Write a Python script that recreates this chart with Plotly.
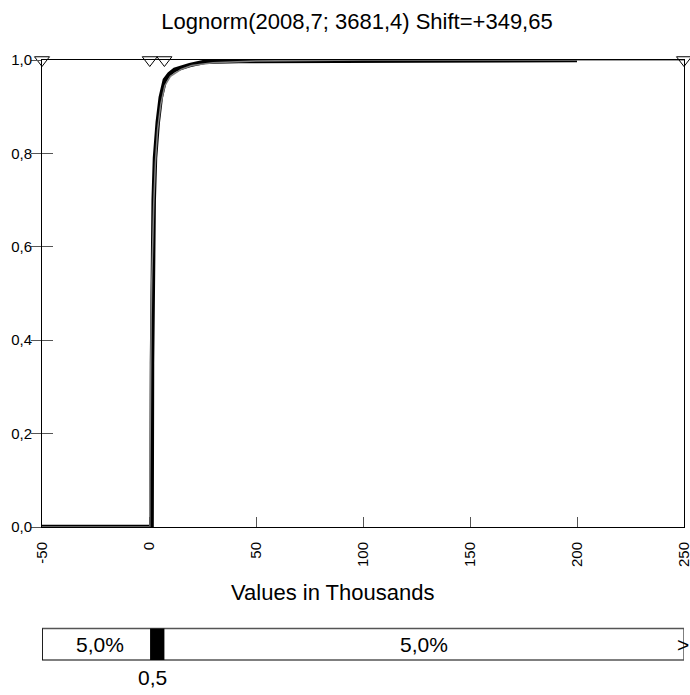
import plotly.graph_objects as go

# ---- data ----
emp_x = [-50, 1.2, 1.4, 1.6, 1.9, 2.2, 2.8, 3.6, 4.1, 5.5, 7.4, 9.5, 12, 19, 26, 42, 80, 200]
emp_y = [0, 0, 0.35, 0.50, 0.62, 0.70, 0.79, 0.84, 0.867, 0.92, 0.957, 0.97, 0.979, 0.989, 0.996, 0.998, 0.999, 1.0]

fit_x = [-50, 0.35, 0.4, 0.5, 0.7, 1.0, 1.3, 1.7, 2.2, 3.0, 4.0, 5.5, 7.4, 10, 15, 20, 30, 50, 100, 250]
fit_y = [0, 0, 0.10, 0.20, 0.33, 0.45, 0.53, 0.61, 0.69, 0.78, 0.85, 0.905, 0.945, 0.965, 0.98, 0.988, 0.994, 0.998, 1.0, 1.0]

x_ticks = [-50, 0, 50, 100, 150, 200, 250]
x_ticktext = ["-50", "0", "50", "100", "150", "200", "250"]
y_ticks = [0.0, 0.2, 0.4, 0.6, 0.8, 1.0]
y_ticktext = ["0,0", "0,2", "0,4", "0,6", "0,8", "1,0"]

marker_x = [-50, 0.35, 7.2, 250]
delim_left = 0.5
delim_right = 7.2
pct_left = "5,0%"
pct_right = "5,0%"
delim_label = "0,5"
title_text = "Lognorm(2008,7; 3681,4) Shift=+349,65"
x_title = "Values in Thousands"

FONT = "Arial, Liberation Sans, sans-serif"
X0, X1 = -50, 250
PW = 642  # plot width in px

fig = go.Figure()
fig.add_trace(go.Scatter(x=emp_x, y=emp_y, mode="lines",
                         line=dict(color="black", width=4.5), hoverinfo="skip"))
fig.add_trace(go.Scatter(x=fit_x, y=fit_y, mode="lines",
                         line=dict(color="#7f7f7f", width=1.5), hoverinfo="skip"))
fig.add_trace(go.Scatter(x=marker_x, y=[1.0] * len(marker_x), mode="markers",
                         marker=dict(symbol="triangle-down-open", size=13,
                                     color="black", line=dict(width=1, color="black")),
                         cliponaxis=False, hoverinfo="skip"))
# invisible trace for the inside part of y ticks
fig.add_trace(go.Scatter(x=[X0], y=[0], yaxis="y2", mode="markers",
                         marker=dict(opacity=0), hoverinfo="skip"))

fig.update_layout(
    width=690, height=695,
    margin=dict(l=42, r=6, t=60, b=168, autoexpand=False),
    paper_bgcolor="white", plot_bgcolor="white",
    showlegend=False,
    separators=",.",
    font=dict(family=FONT, size=15, color="black"),
    title=dict(text=title_text, x=357 / 690, xanchor="center",
               y=1 - 21 / 695, yanchor="middle",
               font=dict(family=FONT, size=22, color="black")),
    xaxis=dict(range=[X0, X1], tickvals=x_ticks, ticktext=x_ticktext,
               tickangle=-90, ticks="inside", ticklen=10, tickcolor="#555555",
               showgrid=False, zeroline=False, showline=True, linecolor="black",
               linewidth=1, mirror=True, ticklabelstandoff=8,
               ticklabeloverflow="allow", automargin=False,
               tickfont=dict(family=FONT, size=15)),
    yaxis=dict(range=[0, 1.0], tickvals=y_ticks, ticktext=y_ticktext,
               ticks="outside", ticklen=10, tickcolor="#555555",
               showgrid=False, zeroline=False, showline=True, linecolor="black",
               linewidth=1, mirror=True, ticklabelstandoff=-4,
               ticklabeloverflow="allow", automargin=False,
               tickfont=dict(family=FONT, size=15)),
    yaxis2=dict(range=[0, 1.0], overlaying="y", side="left", tickvals=y_ticks,
                showticklabels=False, ticks="inside", ticklen=11,
                tickcolor="#555555", showgrid=False, zeroline=False,
                showline=False, automargin=False),
)

# axis title
fig.add_annotation(text=x_title, xref="paper", yref="paper", x=(332.5 - 42) / PW,
                   y=(527 - 592) / 467, xanchor="center", yanchor="middle",
                   showarrow=False, font=dict(family=FONT, size=22))

# percentile bar
yb0 = (527 - 660) / 467
yb1 = (527 - 628.5) / 467
fig.add_shape(type="rect", xref="x", yref="paper", x0=X0, x1=X1, y0=yb0, y1=yb1,
              line=dict(color="#555555", width=1.5), fillcolor="white")
fig.add_shape(type="line", xref="x", yref="paper", x0=X0, x1=X0, y0=yb0, y1=yb1,
              line=dict(color="black", width=1.5))
fig.add_shape(type="rect", xref="x", yref="paper", x0=delim_left, x1=delim_right,
              y0=yb0, y1=yb1, line=dict(width=0), fillcolor="black")
ymid = (yb0 + yb1) / 2
fig.add_annotation(text=pct_left, xref="x", yref="paper", x=(X0 + delim_left) / 2,
                   y=ymid, showarrow=False, xanchor="center", yanchor="middle",
                   xshift=4, font=dict(family=FONT, size=21))
fig.add_annotation(text=pct_right, xref="x", yref="paper", x=(delim_right + X1) / 2,
                   y=ymid, showarrow=False, xanchor="center", yanchor="middle",
                   font=dict(family=FONT, size=21))
fig.add_annotation(text=">", xref="x", yref="paper", x=X1, y=ymid, showarrow=False,
                   xanchor="center", yanchor="middle", xshift=-1,
                   font=dict(family=FONT, size=21))
fig.add_annotation(text=delim_label, xref="x", yref="paper", x=delim_left,
                   y=(527 - 677) / 467, showarrow=False, xanchor="center",
                   yanchor="middle", xshift=2, font=dict(family=FONT, size=21))

fig.write_html("out.html")
